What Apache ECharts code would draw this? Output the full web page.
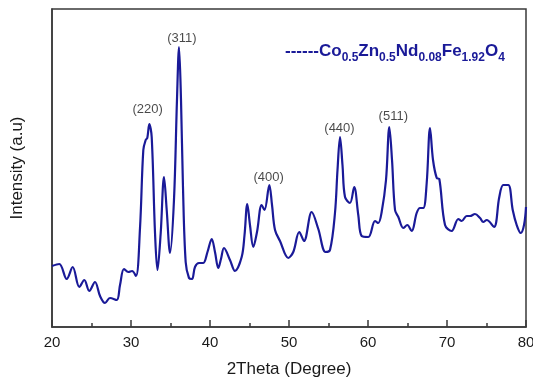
<!DOCTYPE html>
<html>
<head>
<meta charset="utf-8">
<script src="https://cdn.jsdelivr.net/npm/echarts@6/dist/echarts.min.js"></script>
<style>
html,body{margin:0;padding:0;background:#fff;}
#chart{width:533px;height:385px;}
</style>
</head>
<body>
<div id="chart"></div>
<script>
const theta = [20.00,20.92,21.86,22.62,23.46,24.09,24.72,25.44,26.08,26.71,27.34,28.19,28.61,29.11,29.66,30.13,30.63,31.14,31.56,31.86,32.06,32.32,32.62,33.04,33.35,33.76,34.18,34.52,34.94,35.44,35.82,36.08,36.33,36.58,36.92,37.34,37.72,38.10,38.61,39.15,39.68,40.22,40.63,41.05,41.39,41.77,42.53,43.16,44.01,44.37,44.72,45.06,45.48,45.95,46.54,46.90,47.51,47.85,48.23,48.86,49.91,50.54,51.30,51.90,52.87,53.71,54.62,55.19,55.82,56.14,56.46,56.77,57.09,57.72,58.25,58.77,59.20,60.04,60.89,61.30,61.73,62.28,62.70,63.04,63.42,63.84,64.47,64.97,65.53,66.16,66.58,67.00,67.43,67.85,68.23,68.70,69.03,69.75,70.59,71.43,71.86,72.49,72.91,73.54,74.18,74.59,75.03,75.95,76.62,77.13,77.76,78.32,78.82,79.33,79.75,80.00];
const intensity = [61,63,48,60,40,47,36,45,31,24,29,27,42,58,55,56,51,99,177,187,189,203,190,94,57,94,150,117,74,127,227,280,227,140,65,49,48,60,64,64,75,88,75,59,68,79,67,56,70,92,123,102,80,95,122,117,142,122,97,86,69,75,95,86,115,98,75,77,114,157,190,162,130,124,140,112,91,90,106,104,115,147,200,167,117,110,99,102,96,114,119,119,144,199,167,149,148,102,96,108,106,111,111,113,109,105,107,100,130,142,142,117,102,94,102,120];
const peakLabels = ['(220)','(311)','(400)','(440)','(511)'];
const peakTheta = [32.10, 36.45, 47.43, 56.39, 63.20];
const peakIntensity = [218, 289, 150, 199, 211];
const xMin = 20, xMax = 80, xStep = 10;
const yMin = 0, yMax = 318;

const lineData = theta.map((t, i) => [t, intensity[i]]);
const labelData = peakTheta.map((t, i) => ({value: [t, peakIntensity[i]], name: peakLabels[i]}));

const chart = echarts.init(document.getElementById('chart'));
const navy = '#1a1a98';
chart.setOption({
  animation: false,
  backgroundColor: '#ffffff',
  title: {
    text: '{d|------}{m|Co}{s|0.5}{m|Zn}{s|0.5}{m|Nd}{s|0.08}{m|Fe}{s|1.92}{m|O}{s|4}',
    left: 280, top: 33,
    textStyle: {
      rich: {
        d: {fontFamily: 'Liberation Sans', fontSize: 17, fontWeight: 'bold', color: navy, lineHeight: 26, verticalAlign: 'middle'},
        m: {fontFamily: 'Liberation Sans', fontSize: 17, fontWeight: 'bold', color: navy, lineHeight: 26, verticalAlign: 'middle'},
        s: {fontFamily: 'Liberation Sans', fontSize: 12, fontWeight: 'bold', color: navy, lineHeight: 26, verticalAlign: 'bottom'}
      }
    }
  },
  grid: {left: 52, right: 7, top: 9, bottom: 58, outerBoundsMode: 'none', containLabel: false, show: true, borderColor: '#3a3a3a', borderWidth: 1.5, backgroundColor: 'transparent'},
  xAxis: {
    type: 'value', min: xMin, max: xMax, interval: xStep,
    name: '2Theta (Degree)', nameLocation: 'middle', nameGap: 34,
    nameTextStyle: {fontFamily: 'Liberation Sans', fontSize: 17, color: '#1a1a1a'},
    axisLine: {lineStyle: {color: '#3a3a3a', width: 1.5}},
    axisTick: {inside: true, length: 7, lineStyle: {color: '#3a3a3a', width: 1.5}},
    minorTick: {show: true, splitNumber: 2, length: 4, lineStyle: {color: '#3a3a3a', width: 1.5}},
    axisLabel: {fontFamily: 'Liberation Sans', fontSize: 15, color: '#1a1a1a', margin: 8},
    splitLine: {show: false}
  },
  yAxis: {
    type: 'value', min: yMin, max: yMax,
    name: 'Intensity (a.u)', nameLocation: 'middle', nameGap: 26,
    nameTextStyle: {fontFamily: 'Liberation Sans', fontSize: 17, color: '#1a1a1a'},
    axisLine: {show: true, lineStyle: {color: '#3a3a3a', width: 1.5}},
    axisTick: {show: false},
    axisLabel: {show: false},
    splitLine: {show: false}
  },
  series: [
    {
      type: 'line', data: lineData, smooth: 0.35, symbol: 'none',
      lineStyle: {color: navy, width: 2.2}
    },
    {
      type: 'scatter', data: labelData, symbolSize: 0,
      label: {show: true, position: 'inside', formatter: p => p.name,
        fontFamily: 'Liberation Sans', fontSize: 13, color: '#1a1a1a'}
    }
  ]
});
</script>
</body>
</html>
